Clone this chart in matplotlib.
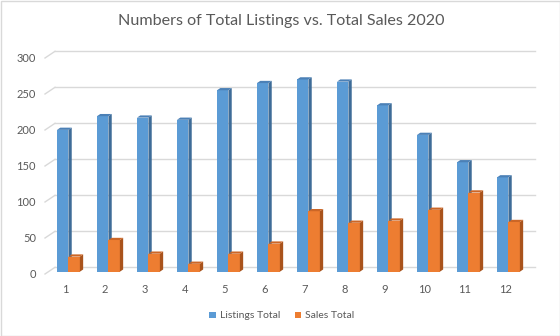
import matplotlib
matplotlib.use("Agg")
import matplotlib.pyplot as plt
from matplotlib.patches import Polygon, Patch, Rectangle

# Monthly counts for 2020
months = [str(m) for m in range(1, 13)]
listings_total = [197, 216, 214, 211, 252, 262, 267, 264, 231, 190, 152, 131]
sales_total = [21, 44, 25, 11, 25, 39, 84, 68, 71, 86, 110, 69]
y_ticks = [0, 50, 100, 150, 200, 250, 300]

title = "Numbers of Total Listings vs. Total Sales 2020"
series_names = ["Listings Total", "Sales Total"]

TEXT = "#595959"
GRID = "#D9D9D9"
BLUE = ("#5B9BD5", "#3E6C98", "#4B80B6")     # front, side, top
ORANGE = ("#ED7D31", "#A9531C", "#CC6626")

plt.rcParams["font.family"] = ["Lato", "DejaVu Sans"]

W, H = 560, 336
fig = plt.figure(figsize=(W / 100, H / 100), dpi=100)
fig.patch.set_facecolor("white")

# front plane of the 3-D box
ax = fig.add_axes([45 / W, (H - 274) / H, 480 / W, 216 / H])
ax.set_xlim(-0.5, len(months) - 0.5)
ax.set_ylim(0, 300)
for s in ax.spines.values():
    s.set_visible(False)

# depth of the floor, in data units (x: categories, y: values)
DX = 0.25
DV = 9.3


def shift(x, v, f):
    return x + f * DX, v + f * DV


# back wall gridlines with the short side-wall segments
x0, x1 = -0.5, len(months) - 0.5
for t in y_ticks:
    bx0, bv = shift(x0, t, 1.0)
    bx1, _ = shift(x1, t, 1.0)
    ax.plot([x0, bx0], [t, bv], color=GRID, lw=1.0, clip_on=False, zorder=1)
    ax.plot([bx0, bx1], [bv, bv], color=GRID, lw=1.0, clip_on=False, zorder=1)

# 3-D columns
gap_width = 1.5
bw = 1.0 / (2 + gap_width)
f0 = 0.343
depth = 0.33


def column(xl, val, colors, z):
    front, side, top = colors
    a, b = shift(xl, 0, f0)
    xr = xl + bw
    c, _ = shift(xr, 0, f0)
    va = b + val
    sx, sv = depth * DX, depth * DV
    ax.add_patch(Polygon([(a, b), (c, b), (c, va), (a, va)], closed=True,
                         facecolor=front, edgecolor="none", clip_on=False, zorder=z))
    ax.add_patch(Polygon([(c, b), (c + sx, b + sv), (c + sx, va + sv), (c, va)],
                         closed=True, facecolor=side, edgecolor="none",
                         clip_on=False, zorder=z))
    ax.add_patch(Polygon([(a, va), (c, va), (c + sx, va + sv), (a + sx, va + sv)],
                         closed=True, facecolor=top, edgecolor="none",
                         clip_on=False, zorder=z))


for i, (l, s) in enumerate(zip(listings_total, sales_total)):
    column(i - bw, l, BLUE, 3 + 2 * i)
    column(i, s, ORANGE, 4 + 2 * i)

ax.set_yticks(y_ticks)
ax.set_yticklabels([str(t) for t in y_ticks])
ax.set_xticks(range(len(months)))
ax.set_xticklabels(months)
ax.tick_params(axis="both", length=0, labelsize=8, labelcolor=TEXT)
ax.tick_params(axis="y", pad=6.5)
ax.tick_params(axis="x", pad=7)

fig.text(281 / W, 1 - 21 / H, title, ha="center", va="center",
         fontsize=11.6, color=TEXT)

handles = [Patch(facecolor=BLUE[0], edgecolor="none"),
           Patch(facecolor=ORANGE[0], edgecolor="none")]
fig.legend(handles, series_names, loc="center", bbox_to_anchor=(282 / W, 1 - 316 / H),
           ncol=2, frameon=False, fontsize=7.5, labelcolor=TEXT,
           handlelength=0.6, handleheight=0.6, handletextpad=0.4, columnspacing=1.4)

# chart-area border
fig.add_artist(Rectangle((0.5 / W, 0.5 / H), (W - 1) / W, (H - 1) / H,
                         transform=fig.transFigure, fill=False,
                         edgecolor=GRID, lw=1.0))

fig.savefig("out.png", dpi=100, facecolor="white")
